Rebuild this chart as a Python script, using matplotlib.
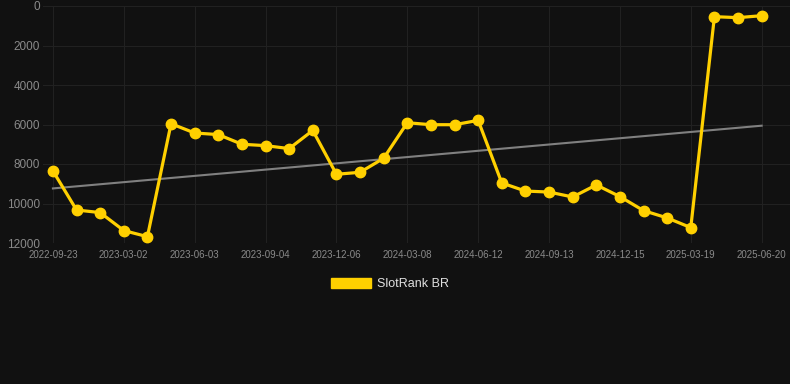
import matplotlib
matplotlib.use("Agg")
import matplotlib.pyplot as plt
from matplotlib.patches import Patch
import numpy as np

plt.rcParams['font.family'] = ['Liberation Sans', 'DejaVu Sans']

dates = [
    "2022-09-23", "2022-12-29", "2023-01-30", "2023-03-02", "2023-04-02", "2023-05-03",
    "2023-06-03", "2023-07-04", "2023-08-04", "2023-09-04", "2023-10-05", "2023-11-05",
    "2023-12-06", "2024-01-06", "2024-02-06", "2024-03-08", "2024-04-08", "2024-05-10",
    "2024-06-12", "2024-07-13", "2024-08-13", "2024-09-13", "2024-10-14", "2024-11-14",
    "2024-12-15", "2025-01-15", "2025-02-16", "2025-03-19", "2025-04-19", "2025-05-20",
    "2025-06-20",
]
rank = [
    8350, 10330, 10460, 11370, 11680, 5960, 6430, 6510, 7000, 7070, 7220, 6300,
    8520, 8420, 7710, 5910, 6010, 6010, 5790, 8960, 9370, 9420, 9670, 9060,
    9650, 10360, 10730, 11220, 540, 590, 490,
]
series_name = "SlotRank BR"
yticks = [0, 2000, 4000, 6000, 8000, 10000, 12000]

bg = "#111111"
gold = "#FFD000"

fig = plt.figure(figsize=(7.9, 3.84), dpi=100, facecolor=bg)
ax = fig.add_axes([43/790, 141/384, 747/790, 237/384], facecolor=bg)

x = np.arange(len(rank))
coef = np.polyfit(x, rank, 1)
ax.plot(x, np.polyval(coef, x), color="#808080", lw=1.5, zorder=2)
ax.plot(x, rank, color=gold, lw=2.3, marker="o", markersize=7.5, zorder=3)

ax.set_ylim(12000, 0)
ax.set_xlim(-0.42, 31.2)
ax.set_yticks(yticks)
ax.set_yticklabels([str(v) for v in yticks])
ax.set_xticks(x[::3])
ax.set_xticklabels(dates[::3])

ax.grid(True, color="#212121", lw=0.8)
ax.set_axisbelow(True)
for s in ax.spines.values():
    s.set_visible(False)
ax.tick_params(axis="y", length=0, pad=2, labelsize=8.5, labelcolor="#8a8a8a")
ax.tick_params(axis="x", length=0, pad=5, labelsize=7, labelcolor="#8a8a8a")

fig.legend(handles=[Patch(facecolor=gold, edgecolor=gold, label=series_name)],
           loc="center", bbox_to_anchor=(390/790, 1 - 284/384), frameon=False,
           fontsize=9, labelcolor="#e0e0e0", handlelength=3.2, handleheight=0.9,
           handletextpad=0.5)

fig.savefig("out.png", dpi=100, facecolor=bg)
